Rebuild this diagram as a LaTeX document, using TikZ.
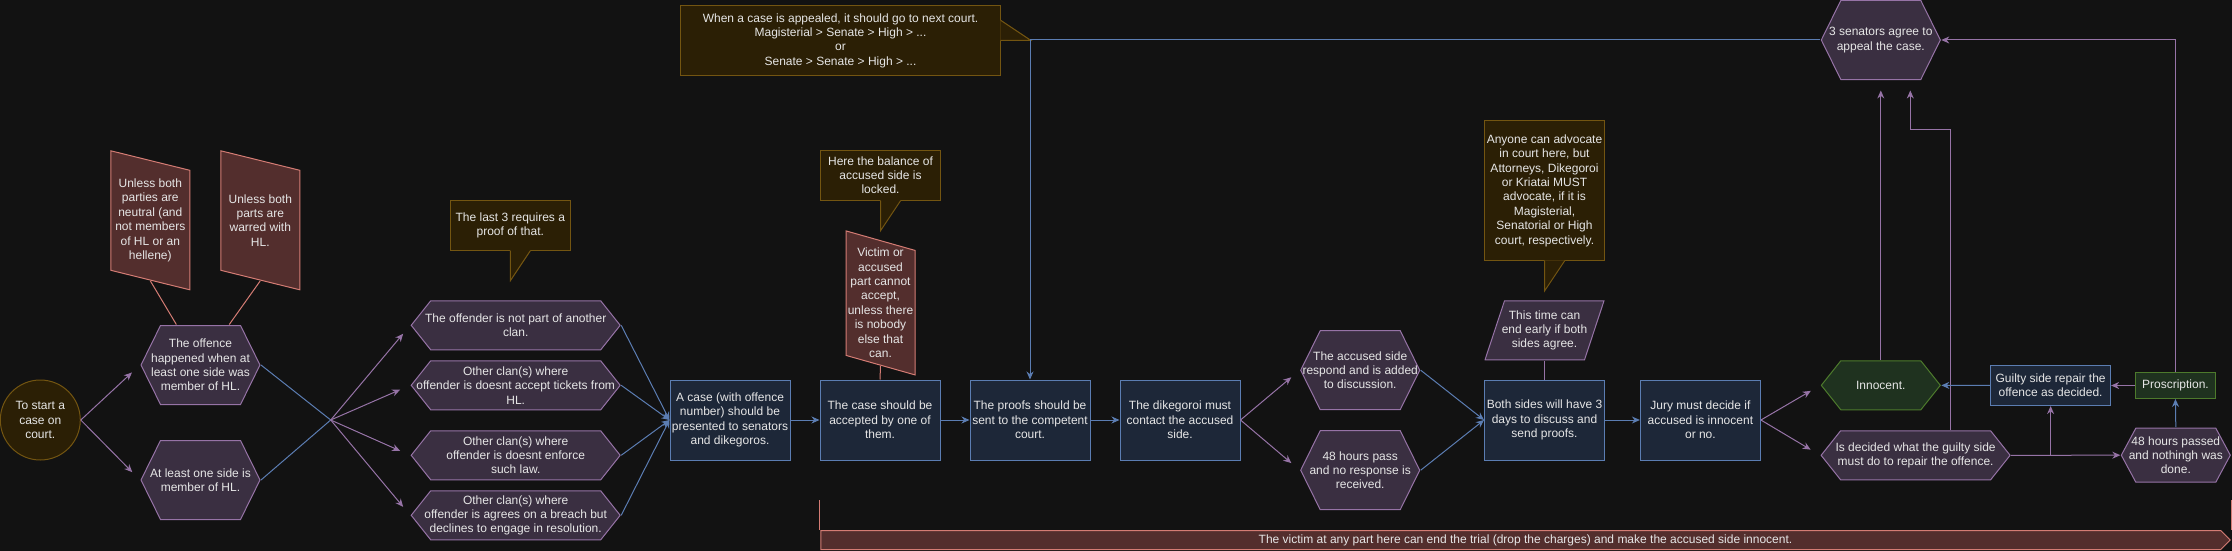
\documentclass[tikz,border=0pt]{standalone}
\usepackage{fontspec}
\setmainfont{Liberation Sans}
\usetikzlibrary{arrows.meta}

\definecolor{bgcol}{HTML}{121212}
\definecolor{txtcol}{HTML}{E6E6E6}
\definecolor{purpledraw}{HTML}{9673A6}
\definecolor{purplefill}{HTML}{3A2F41}
\definecolor{bluedraw}{HTML}{5B7DB2}
\definecolor{bluefill}{HTML}{1D2738}
\definecolor{greendraw}{HTML}{4D7A2C}
\definecolor{greenfill}{HTML}{1F321F}
\definecolor{notedraw}{HTML}{D47C74}
\definecolor{notefill}{HTML}{532E2D}
\definecolor{calldraw}{HTML}{735511}
\definecolor{callfill}{HTML}{2B1F05}

% outlines drawn inside the node box
\newcommand{\hexoutline}[3]{%
  \filldraw[draw=#2,fill=#3,line width=1pt]
    ([xshift=#1,yshift=-0.5pt]path picture bounding box.north west)
    -- ([xshift=-#1,yshift=-0.5pt]path picture bounding box.north east)
    -- ([xshift=-0.5pt]path picture bounding box.east)
    -- ([xshift=-#1,yshift=0.5pt]path picture bounding box.south east)
    -- ([xshift=#1,yshift=0.5pt]path picture bounding box.south west)
    -- ([xshift=0.5pt]path picture bounding box.west) -- cycle;}
\newcommand{\manualoutline}[2]{%
  \filldraw[draw=#1,fill=#2,line width=1pt]
    ([xshift=0.5pt,yshift=-0.5pt]path picture bounding box.north west)
    -- ([xshift=-0.5pt,yshift=-20pt]path picture bounding box.north east)
    -- ([xshift=-0.5pt,yshift=0.5pt]path picture bounding box.south east)
    -- ([xshift=0.5pt,yshift=20pt]path picture bounding box.south west) -- cycle;}
\newcommand{\slantoutline}[2]{%
  \filldraw[draw=#1,fill=#2,line width=1pt]
    ([xshift=20pt,yshift=-0.5pt]path picture bounding box.north west)
    -- ([xshift=-0.5pt,yshift=-0.5pt]path picture bounding box.north east)
    -- ([xshift=-20pt,yshift=0.5pt]path picture bounding box.south east)
    -- ([xshift=0.5pt,yshift=0.5pt]path picture bounding box.south west) -- cycle;}
\newcommand{\baroutline}[2]{%
  \filldraw[draw=#1,fill=#2,line width=1pt]
    ([xshift=0.5pt,yshift=-0.5pt]path picture bounding box.north west)
    -- ([xshift=-10pt,yshift=-0.5pt]path picture bounding box.north east)
    -- ([xshift=-0.5pt]path picture bounding box.east)
    -- ([xshift=-10pt,yshift=0.5pt]path picture bounding box.south east)
    -- ([xshift=0.5pt,yshift=0.5pt]path picture bounding box.south west) -- cycle;}

\begin{document}
\begin{tikzpicture}[x=1pt,y=-1pt,line width=1pt,
    font=\fontsize{12}{14.4}\selectfont,
    every node/.style={text=txtcol,align=center,inner sep=0pt},
    flowbox/.style={draw=bluedraw,fill=bluefill,minimum width=120pt,minimum height=80pt},
    greenbox/.style={draw=greendraw,fill=greenfill},
    purplehex/.style={path picture={\hexoutline{#1}{purpledraw}{purplefill}}},
    purplehex/.default=20pt,
    greenhex/.style={path picture={\hexoutline{20pt}{greendraw}{greenfill}}},
    manualnote/.style={path picture={\manualoutline{notedraw}{notefill}}},
    slantnote/.style={path picture={\slantoutline{purpledraw}{purplefill}}},
    barnote/.style={path picture={\baroutline{notedraw}{notefill}}},
    callnote/.style={draw=calldraw,fill=callfill},
    purplelink/.style={draw=purpledraw},
    bluelink/.style={draw=bluedraw},
    redlink/.style={draw=notedraw},
    purplearrow/.style={draw=purpledraw,-{Stealth[length=8pt,width=7pt]}},
    bluearrow/.style={draw=bluedraw,-{Stealth[length=8pt,width=7pt]}}]

  \path[use as bounding box,fill=bgcol] (0,0) rectangle (2232,551);

  % start and membership
  \node[circle,draw=calldraw,fill=callfill,minimum size=80pt] (start) at (40.3,420) {To start a\\case on\\court.};
  \node[purplehex,minimum width=120pt,minimum height=80pt] (hlwhen) at (200.5,365) {The offence\\happened when at\\least one side was\\member of HL.};
  \node[purplehex,minimum width=120pt,minimum height=80pt] (hlone) at (200.5,480) {At least one side is\\member of HL.};
  \node[manualnote,minimum width=80pt,minimum height=140pt] (noteA) at (150.3,220.3) {Unless both\\parties are\\neutral (and\\not members\\of HL or an\\hellene)};
  \node[manualnote,minimum width=80pt,minimum height=140pt] (noteB) at (260.3,220.3) {Unless both\\parts are\\warred with\\HL.};

  % clans
  \node[purplehex,minimum width=210pt,minimum height=50pt] (clanA) at (515.7,325.3) {The offender is not part of another\\clan.};
  \node[purplehex,minimum width=210pt,minimum height=50pt] (clanB) at (515.7,385.3) {Other clan(s) where\\offender is doesnt accept tickets from\\HL.};
  \node[purplehex,minimum width=210pt,minimum height=50pt] (clanC) at (515.7,455.3) {Other clan(s) where\\offender is doesnt enforce\\such law.};
  \node[purplehex,minimum width=210pt,minimum height=50pt] (clanD) at (515.7,515.3) {Other clan(s) where\\offender is agrees on a breach but\\declines to engage in resolution.};
  \node[callnote,minimum width=120pt,minimum height=50pt] (lastthree) at (510.3,225.3) {The last 3 requires a\\proof of that.};
  \fill[callfill] ([yshift=0.6pt]lastthree.south) -- ++(0,30) -- ([xshift=20pt,yshift=0.6pt]lastthree.south) -- cycle;
  \draw[calldraw] (lastthree.south) -- ++(0,30) -- ([xshift=20pt]lastthree.south);

  % main line
  \node[flowbox] (caseno) at (730,420) {A case (with offence\\number) should be\\presented to senators\\and dikegoros.};
  \node[flowbox] (accepted) at (880,420) {The case should be\\accepted by one of\\them.};
  \node[flowbox] (proofs) at (1030,420) {The proofs should be\\sent to the competent\\court.};
  \node[flowbox] (contact) at (1180,420) {The dikegoroi must\\contact the accused\\side.};
  \node[manualnote,minimum width=70pt,minimum height=145pt] (victim) at (880.5,302.9) {Victim or\\accused\\part cannot\\accept,\\unless there\\is nobody\\else that\\can.};
  \node[callnote,minimum width=120pt,minimum height=50pt] (balance) at (880.5,175.3) {Here the balance of\\accused side is\\locked.};
  \fill[callfill] ([yshift=0.6pt]balance.south) -- ++(0,30) -- ([xshift=20pt,yshift=0.6pt]balance.south) -- cycle;
  \draw[calldraw] (balance.south) -- ++(0,30) -- ([xshift=20pt]balance.south);
  \node[callnote,minimum width=320pt,minimum height=70pt] (appealnote) at (840.5,40.5) {When a case is appealed, it should go to next court.\\Magisterial > Senate > High > ...\\or\\Senate > Senate > High > ...};
  \fill[callfill] ([xshift=-0.6pt,yshift=20pt]appealnote.east) -- ([xshift=30pt]appealnote.east) -- ([xshift=-0.6pt]appealnote.east) -- cycle;
  \draw[calldraw] ([yshift=20pt]appealnote.east) -- ([xshift=30pt]appealnote.east) -- (appealnote.east);

  % answer of the accused side
  \node[purplehex,minimum width=120pt,minimum height=80pt] (respond) at (1360.2,370.2) {The accused side\\respond and is added\\to discussion.};
  \node[purplehex,minimum width=120pt,minimum height=80pt] (noresp) at (1360.2,470.2) {48 hours pass\\and no response is\\received.};
  \node[flowbox] (discuss) at (1544.5,420) {Both sides will have 3\\days to discuss and\\send proofs.};
  \node[slantnote,minimum width=120pt,minimum height=60pt] (early) at (1544.5,330.3) {This time can\\end early if both\\sides agree.};
  \node[callnote,minimum width=120pt,minimum height=140pt] (advocate) at (1544.5,190.5) {Anyone can advocate\\in court here, but\\Attorneys, Dikegoroi\\or Kriatai MUST\\advocate, if it is\\Magisterial,\\Senatorial or High\\court, respectively.};
  \fill[callfill] ([yshift=0.6pt]advocate.south) -- ++(0,30) -- ([xshift=20pt,yshift=0.6pt]advocate.south) -- cycle;
  \draw[calldraw] (advocate.south) -- ++(0,30) -- ([xshift=20pt]advocate.south);

  % verdict
  \node[flowbox] (jury) at (1700.4,420) {Jury must decide if\\accused is innocent\\or no.};
  \node[greenhex,minimum width=120pt,minimum height=50pt] (innocent) at (1880.8,385.3) {Innocent.};
  \node[purplehex,minimum width=190pt,minimum height=50pt] (decided) at (1915.6,455.3) {Is decided what the guilty side\\must do to repair the offence.};
  \node[flowbox,minimum width=120pt,minimum height=40pt] (repair) at (2050.6,385.5) {Guilty side repair the\\offence as decided.};
  \node[greenbox,minimum width=80pt,minimum height=26pt] (proscr) at (2175.4,385.5) {Proscription.};
  \node[purplehex=15pt,minimum width=110pt,minimum height=55pt] (passed) at (2175.8,455.2) {48 hours passed\\and nothingh was\\done.};
  \node[purplehex,minimum width=120pt,minimum height=80pt] (appeal) at (1880.8,40) {3 senators agree to\\appeal the case.};

  % withdrawal
  \node[barnote,minimum width=1410.5pt,minimum height=20pt] (victimbar) at (1525.5,540) {The victim at any part here can end the trial (drop the charges) and make the accused side innocent.};
  \draw[redlink] (victimbar.north west) -- ++(0,-30);
  \draw[redlink] (victimbar.north east) -- ++(0,-30);

  % connectors
  \draw[purplearrow,shorten >=11pt] (start.east) -- (hlwhen.west);
  \draw[purplearrow,shorten >=11pt] (start.east) -- (hlone.west);
  \draw[redlink] ([yshift=10pt]noteA.south) -- (hlwhen);
  \draw[redlink] ([yshift=10pt]noteB.south) -- (hlwhen);
  \coordinate (fan) at (330.7,420);
  \draw[bluelink] (hlwhen.east) -- (fan);
  \draw[bluelink] (hlone.east) -- (fan);
  \foreach \c in {clanA,clanB,clanC,clanD} {
    \draw[purplearrow,shorten >=11pt] (fan) -- (\c.west);
    \draw[bluearrow] (\c.east) -- (caseno.west);
  }
  \draw[bluearrow] (caseno) -- (accepted);
  \draw[bluearrow] (accepted) -- (proofs);
  \draw[bluearrow] (proofs) -- (contact);
  \draw[redlink] ([yshift=10pt]victim.south) -- (accepted.north);
  \draw[purplearrow,shorten >=11pt] (contact.east) -- (respond.west);
  \draw[purplearrow,shorten >=11pt] (contact.east) -- (noresp.west);
  \draw[bluearrow] (respond.east) -- (discuss.west);
  \draw[bluearrow] (noresp.east) -- (discuss.west);
  \draw[purplelink] (early.south) -- (discuss.north);
  \draw[bluearrow] (discuss) -- (jury);
  \draw[purplearrow,shorten >=11pt] (jury.east) -- (innocent.west);
  \draw[purplearrow,shorten >=11pt] (jury.east) -- (decided.west);
  \draw[purplearrow,shorten >=10pt] (innocent.north) -- (appeal.south);
  \draw[purplearrow,shorten >=10pt] ([xshift=34.7pt]decided.north) -- ++(0,-300) -| ([xshift=29.5pt]appeal.south);
  \draw[purplearrow] (proscr.north) |- (appeal.east);
  \draw[bluearrow] (appeal.west) -| (proofs.north);
  \draw[bluearrow] (repair) -- (innocent);
  \draw[purplearrow] (proscr) -- (repair);
  \draw[purplearrow] (decided.east) -- (passed.west);
  \draw[purplearrow] (decided.east) -| (repair.south);
  \draw[bluearrow] (passed.north) -- (proscr.south);
\end{tikzpicture}
\end{document}
